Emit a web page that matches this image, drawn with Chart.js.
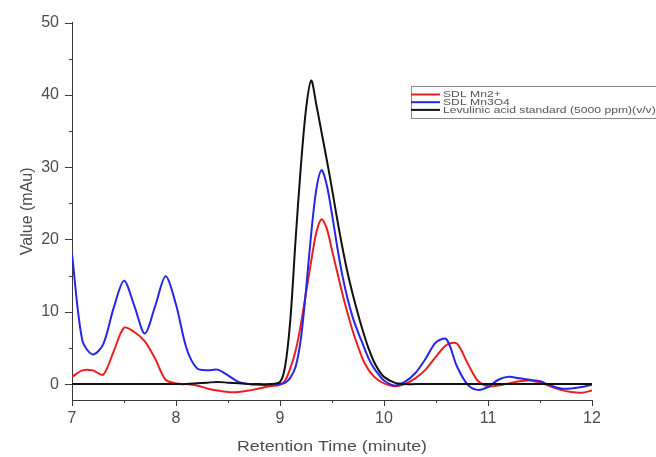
<!DOCTYPE html>
<html>
<head>
<meta charset="utf-8">
<script src="https://cdn.jsdelivr.net/npm/chart.js@4.4.1/dist/chart.umd.min.js"></script>
<style>
  html, body { margin: 0; padding: 0; background: #fff; }
  #wrap { width: 656px; height: 457px; }
</style>
</head>
<body>
<div id="wrap"><canvas id="chromChart" width="656" height="457"></canvas></div>
<script>
// retention times (minute)
const times = [
  7.0, 7.1, 7.2, 7.3, 7.4, 7.5, 7.6, 7.7, 7.8, 7.9,
  8.0, 8.1, 8.2, 8.3, 8.4, 8.5, 8.6, 8.7, 8.8, 8.9,
  9.0, 9.05, 9.1, 9.15, 9.2, 9.25, 9.3, 9.35, 9.4, 9.45,
  9.5, 9.55, 9.6, 9.65, 9.7, 9.75, 9.8, 9.85, 9.9, 9.95, 10.0,
  10.1, 10.2, 10.3, 10.4, 10.5, 10.6, 10.7, 10.8, 10.9, 11.0,
  11.1, 11.2, 11.3, 11.4, 11.5, 11.6, 11.7, 11.8, 11.9, 12.0
]
// detector signal (mAu)
const sdlMn2 = [
  1.0, 1.9, 1.9, 1.3, 4.5, 7.8, 7.2, 5.9, 3.5, 0.6,
  0.1, 0.0, -0.2, -0.6, -0.9, -1.1, -1.1, -0.9, -0.6, -0.3,
  -0.1, 0.5, 2.2, 4.6, 8.2, 12.6, 17.0, 21.0, 22.8, 21.5,
  18.5, 15.5, 12.5, 9.8, 7.3, 5.2, 3.3, 2.0, 1.1, 0.5, 0.1,
  -0.3, 0.0, 0.8, 2.0, 3.8, 5.4, 5.6, 3.0, 0.5, -0.3,
  -0.2, 0.1, 0.4, 0.5, 0.2, -0.3, -0.8, -1.1, -1.2, -0.9
]
const sdlMn3o4 = [
  18.0, 6.0, 4.1, 5.5, 10.5, 14.3, 10.8, 7.0, 10.8, 14.9,
  11.0, 5.0, 2.2, 1.9, 2.0, 1.2, 0.3, 0.0, -0.1, -0.1,
  0.0, 0.2, 0.9, 2.4, 6.2, 13.0, 20.8, 27.0, 29.6, 27.5,
  23.5, 19.0, 15.0, 11.8, 9.2, 7.2, 5.4, 3.6, 2.3, 1.3, 0.5,
  -0.2, 0.3, 1.5, 3.5, 5.8, 6.2, 2.5, 0.0, -0.8, -0.4,
  0.6, 1.0, 0.8, 0.6, 0.4, -0.2, -0.6, -0.6, -0.4, -0.1
]
const levulinicStd = [
  0, 0, 0, 0, 0, 0, 0, 0, 0, 0,
  0, 0, 0.1, 0.2, 0.3, 0.2, 0.1, 0, 0, 0,
  0.3, 2.5, 9.0, 20.0, 30.0, 38.0, 42.0, 38.6, 34.8, 31.0,
  27.0, 22.8, 18.9, 15.4, 12.4, 9.7, 7.2, 5.0, 3.2, 1.9, 1.0,
  0.2, 0, 0, 0, 0, 0, 0, 0, 0, 0,
  0, 0, 0, 0, 0, 0, 0, 0, 0, 0
]
const seriesNames = ['SDL Mn2+', 'SDL Mn3O4', 'Levulinic acid standard (5000 ppm)(v/v)']
const xTitle = 'Retention Time (minute)'
const yTitle = 'Value (mAu)'
const xTickLabels = [7, 8, 9, 10, 11, 12]
const yTickLabels = [0, 10, 20, 30, 40, 50]
const xMinorTicks = [7.5, 8.5, 9.5, 10.5, 11.5]
const yMinorTicks = [5, 15, 25, 35, 45]

const toPoints = vals => times.map((t, i) => ({ x: t, y: vals[i] }))
const fontFamily = '"Liberation Sans", Arial, sans-serif'
const textColor = '#4d4d4d'
const axisColor = '#3a3a3a'

// outward tick marks, long on labelled values and short in between
const tickMarks = {
  id: 'tickMarks',
  afterDraw(chart) {
    const { ctx, chartArea: a } = chart
    const { x, y } = chart.scales
    ctx.save()
    ctx.strokeStyle = axisColor
    ctx.lineWidth = 1
    ctx.beginPath()
    yTickLabels.concat(yMinorTicks).forEach(v => {
      const len = yTickLabels.includes(v) ? 7 : 3
      const py = Math.round(y.getPixelForValue(v)) + 0.5
      ctx.moveTo(a.left - len, py); ctx.lineTo(a.left, py)
    })
    xTickLabels.concat(xMinorTicks).forEach(v => {
      const len = xTickLabels.includes(v) ? 6 : 3
      const px = Math.round(x.getPixelForValue(v)) + 0.5
      ctx.moveTo(px, a.bottom); ctx.lineTo(px, a.bottom + len)
    })
    ctx.stroke()
    // x title, stretched wide like the exported figure
    const cx = (a.left + a.right) / 2
    ctx.translate(cx, 447)
    ctx.scale(1.27, 1)
    ctx.fillStyle = textColor
    ctx.font = '14px ' + fontFamily
    ctx.textAlign = 'center'
    ctx.textBaseline = 'middle'
    ctx.fillText(xTitle, 0, 0)
    ctx.restore()
  }
}

// boxed legend in the upper right
const legendBox = {
  id: 'legendBox',
  afterDraw(chart) {
    const ctx = chart.ctx
    ctx.save()
    ctx.strokeStyle = '#8a8a8a'
    ctx.lineWidth = 1
    ctx.strokeRect(411.5, 86.5, 260, 32)
    chart.data.datasets.forEach((ds, i) => {
      const ly = 94.5 + i * 7.7
      ctx.strokeStyle = ds.borderColor
      ctx.lineWidth = 2
      ctx.beginPath(); ctx.moveTo(411, ly); ctx.lineTo(440, ly); ctx.stroke()
      ctx.save()
      ctx.translate(443, ly)
      ctx.scale(1.35, 1)
      ctx.fillStyle = '#555'
      ctx.font = '9px ' + fontFamily
      ctx.textBaseline = 'middle'
      ctx.fillText(ds.label, 0, 0.5)
      ctx.restore()
    })
    ctx.restore()
  }
}

const lineStyle = { showLine: true, pointRadius: 0, borderWidth: 2, tension: 0.3, fill: false }

new Chart(document.getElementById('chromChart'), {
  type: 'scatter',
  data: {
    datasets: [
      { label: seriesNames[0], data: toPoints(sdlMn2), borderColor: '#ec1f1f', order: 2, ...lineStyle },
      { label: seriesNames[1], data: toPoints(sdlMn3o4), borderColor: '#2626e6', order: 1, ...lineStyle },
      { label: seriesNames[2], data: toPoints(levulinicStd), borderColor: '#111111', order: 0, ...lineStyle }
    ]
  },
  options: {
    responsive: false,
    animation: false,
    devicePixelRatio: 1,
    layout: { padding: { top: 22, right: 64, left: 0, bottom: 0 } },
    plugins: { legend: { display: false }, tooltip: { enabled: false } },
    scales: {
      x: {
        type: 'linear', min: 7, max: 12,
        afterBuildTicks: s => { s.ticks = xTickLabels.map(v => ({ value: v })) },
        afterFit: s => { s.height = 57 },
        grid: { display: false, drawTicks: false },
        border: { display: true, color: axisColor, width: 1 },
        ticks: { padding: 9, color: textColor, font: { family: fontFamily, size: 16 } },
        title: { display: false }
      },
      y: {
        type: 'linear', min: -2.2, max: 50,
        afterBuildTicks: s => { s.ticks = yTickLabels.map(v => ({ value: v })) },
        afterFit: s => { s.width = 72 },
        grid: { display: false, drawTicks: false },
        border: { display: true, color: axisColor, width: 1 },
        ticks: { padding: 13, color: textColor, font: { family: fontFamily, size: 16 } },
        title: { display: true, text: yTitle, color: textColor, padding: { top: 18 },
                 font: { family: fontFamily, size: 16 } }
      }
    }
  },
  plugins: [tickMarks, legendBox]
})
</script>
</body>
</html>
